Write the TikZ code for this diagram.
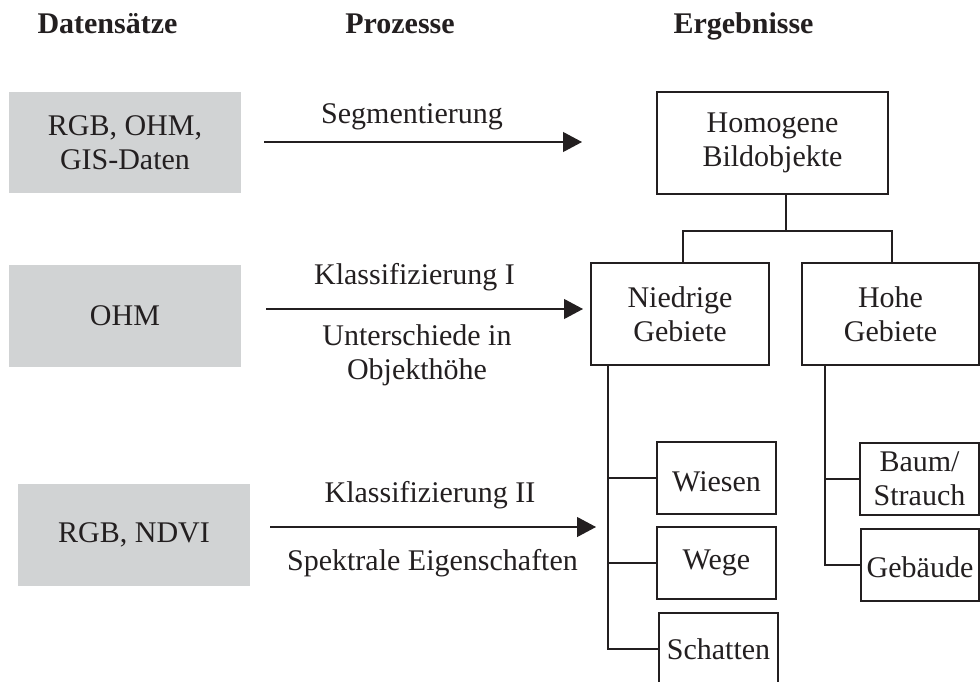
\documentclass[tikz,border=0pt]{standalone}
\usepackage{fontspec}
\setmainfont{Liberation Serif}
\usetikzlibrary{arrows.meta}
\definecolor{ink}{RGB}{35,31,32}
\definecolor{fillgray}{RGB}{209,211,212}
\begin{document}
\begin{tikzpicture}[x=1pt,y=-1pt,
  font=\fontsize{30}{34}\selectfont, text=ink,
  every node/.style={inner sep=0pt, outer sep=0pt},
  databox/.style={fill=fillgray, minimum width=232pt, minimum height=101pt, align=center},
  resbox/.style={draw=ink, line width=1.1pt, fill=white, align=center},
  conn/.style={draw=ink, line width=1.1pt},
  proc/.style={draw=ink, line width=1.1pt, -{Triangle[length=19pt,width=20pt]}},
  head/.style={font=\fontsize{30}{34}\selectfont\bfseries, anchor=base},
  lbl/.style={anchor=base, align=center}]
\useasboundingbox (0,0) rectangle (980,681);

% headers
\node[head] (h1) at (107.5,33) {Datensätze};
\node[head] (h2) at (400,33) {Prozesse};
\node[head] (h3) at (743.5,33) {Ergebnisse};

% data sets
\node[databox] (d1) at (125,142.5) {RGB, OHM,\\GIS-Daten};
\node[databox, minimum height=102pt] (d2) at (125,316) {OHM};
\node[databox, minimum height=102pt] (d3) at (134,535) {RGB, NDVI};

% results
\node[resbox, minimum width=231pt, minimum height=102pt] (hom) at (772.5,143) {Homogene\\Bildobjekte};
\node[resbox, minimum width=178pt, minimum height=102pt] (nied) at (680,314) {Niedrige\\Gebiete};
\node[resbox, minimum width=177pt, minimum height=102pt] (hohe) at (890.5,314) {Hohe\\Gebiete};
\node[resbox, minimum width=119pt, minimum height=72pt, text height=27pt, text depth=0pt] (wies) at (716.5,478) {Wiesen};
\node[resbox, minimum width=119pt, minimum height=72pt] (wege) at (716.5,563) {Wege};
\node[resbox, minimum width=119pt, minimum height=72pt] (schat) at (718.5,649) {Schatten};
\node[resbox, minimum width=119pt, minimum height=72pt] (baum) at (919.5,479) {Baum/\\Strauch};
\node[resbox, minimum width=118pt, minimum height=72pt, text height=24pt, text depth=0pt] (geb) at (920,565) {Gebäude};

% processes
\coordinate (a1s) at (264,142); \coordinate (a1e) at (582,142);
\draw[proc] (a1s) -- (a1e);
\node[lbl] (l1) at (412,123) {Segmentierung};

\coordinate (a2s) at (266,309); \coordinate (a2e) at (583,309);
\draw[proc] (a2s) -- (a2e);
\node[lbl] (l2) at (414.5,284) {Klassifizierung I};
\node[align=center, anchor=north] (l3) at (417,324.5) {Unterschiede in\\Objekthöhe};

\coordinate (a3s) at (270,527); \coordinate (a3e) at (596,527);
\draw[proc] (a3s) -- (a3e);
\node[lbl] (l4) at (430,502) {Klassifizierung II};
\node[lbl] (l5) at (432.5,570) {Spektrale Eigenschaften};

% tree
\coordinate (hj) at ([xshift=13.5pt]hom.south);
\draw[conn] (hj) -- ++(0,37) coordinate (hb);
\draw[conn] ([xshift=3pt]nied.north) |- (hb) -| ([xshift=1.5pt]hohe.north);

\coordinate (nv) at ([xshift=17pt]nied.south west);
\draw[conn] (nv) |- (schat.west);
\draw[conn] (wies.west) -- (wies.west -| nv);
\draw[conn] (wege.west) -- (wege.west -| nv);

\coordinate (hv) at ([xshift=23pt]hohe.south west);
\draw[conn] (hv) |- (geb.west);
\draw[conn] (baum.west) -- (baum.west -| hv);
\end{tikzpicture}
\end{document}
